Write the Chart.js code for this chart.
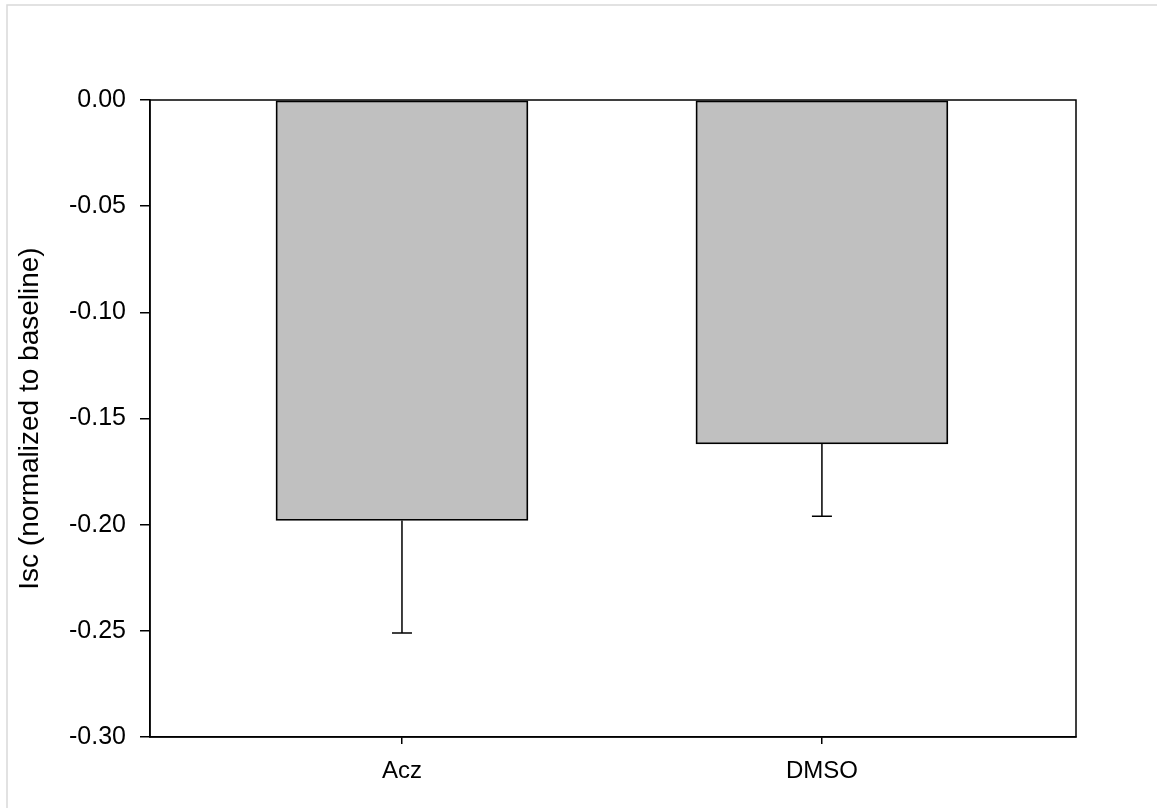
<!DOCTYPE html>
<html>
<head>
<meta charset="utf-8">
<script src="https://cdn.jsdelivr.net/npm/chart.js@4"></script>
<style>
  html, body { margin: 0; padding: 0; background: #fff; }
  #chart { display: block; }
</style>
</head>
<body>
<canvas id="chart" width="1157" height="808"></canvas>
<script>
const categories = ['Acz', 'DMSO'];
const groupIndex = [1, 2];
const meanValues = [-0.198, -0.162];
const errorEnds = [-0.251, -0.196];
const yTicks = [0, -0.05, -0.10, -0.15, -0.20, -0.25, -0.30];

Chart.defaults.font.family = '"Liberation Sans", Arial, sans-serif';
Chart.defaults.color = '#000';

const pageFrame = {
  id: 'pageFrame',
  beforeDraw(chart) {
    const ctx = chart.ctx;
    ctx.save();
    ctx.fillStyle = '#fff';
    ctx.fillRect(0, 0, chart.width, chart.height);
    ctx.strokeStyle = '#d9d9d9';
    ctx.lineWidth = 1.5;
    ctx.beginPath();
    ctx.moveTo(7, chart.height);
    ctx.lineTo(7, 5);
    ctx.lineTo(chart.width, 5);
    ctx.stroke();
    ctx.restore();
  },
  afterDraw(chart) {
    const a = chart.chartArea;
    const ctx = chart.ctx;
    ctx.save();
    ctx.strokeStyle = '#000';
    ctx.lineWidth = 1.5;
    ctx.strokeRect(a.left, a.top, a.right - a.left, a.bottom - a.top);
    ctx.restore();
  }
};

// error bars only go downward, with a short cap
const errorBars = {
  id: 'errorBars',
  afterDatasetsDraw(chart) {
    const xs = chart.scales.x;
    const ys = chart.scales.y;
    const ctx = chart.ctx;
    ctx.save();
    ctx.strokeStyle = '#000';
    ctx.lineWidth = 1.5;
    groupIndex.forEach((g, i) => {
      const px = xs.getPixelForValue(g);
      const y0 = ys.getPixelForValue(meanValues[i]);
      const y1 = ys.getPixelForValue(errorEnds[i]);
      ctx.beginPath();
      ctx.moveTo(px, y0);
      ctx.lineTo(px, y1);
      ctx.moveTo(px - 10, y1);
      ctx.lineTo(px + 10, y1);
      ctx.stroke();
    });
    ctx.restore();
  }
};

new Chart(document.getElementById('chart'), {
  type: 'bar',
  data: {
    datasets: [{
      data: groupIndex.map((g, i) => ({ x: g, y: meanValues[i] })),
      backgroundColor: '#c0c0c0',
      borderColor: '#000',
      borderWidth: 1.8,
      borderSkipped: false,
      barThickness: 252,
    }],
  },
  options: {
    responsive: false,
    animation: false,
    layout: { padding: { top: 100, right: 81, left: 0, bottom: 0 } },
    plugins: { legend: { display: false }, tooltip: { enabled: false } },
    scales: {
      x: {
        type: 'linear',
        min: 0.4,
        max: 2.605,
        offset: false,
        afterBuildTicks: (scale) => { scale.ticks = groupIndex.map(v => ({ value: v })); },
        afterFit: (scale) => { scale.height = 71; },
        grid: { display: true, drawOnChartArea: false, offset: false, tickLength: 7, color: '#000', lineWidth: 1.5 },
        border: { display: true, color: '#000', width: 1.5 },
        ticks: {
          font: { size: 24 },
          padding: 13,
          maxRotation: 0,
          callback: (v) => categories[groupIndex.indexOf(v)],
        },
      },
      y: {
        min: -0.3,
        max: 0,
        afterBuildTicks: (scale) => { scale.ticks = yTicks.map(v => ({ value: v })); },
        afterFit: (scale) => { scale.width = 150; },
        grid: { display: true, drawOnChartArea: false, tickLength: 10, color: '#000', lineWidth: 1.5 },
        border: { display: true, color: '#000', width: 1.5 },
        ticks: {
          font: { size: 25 },
          padding: 14,
          callback: (v) => Number(v).toFixed(2),
        },
        title: {
          display: true,
          text: 'Isc (normalized to baseline)',
          font: { size: 28 },
          padding: { top: 13, bottom: 0 },
        },
      },
    },
  },
  plugins: [pageFrame, errorBars],
});
</script>
</body>
</html>
